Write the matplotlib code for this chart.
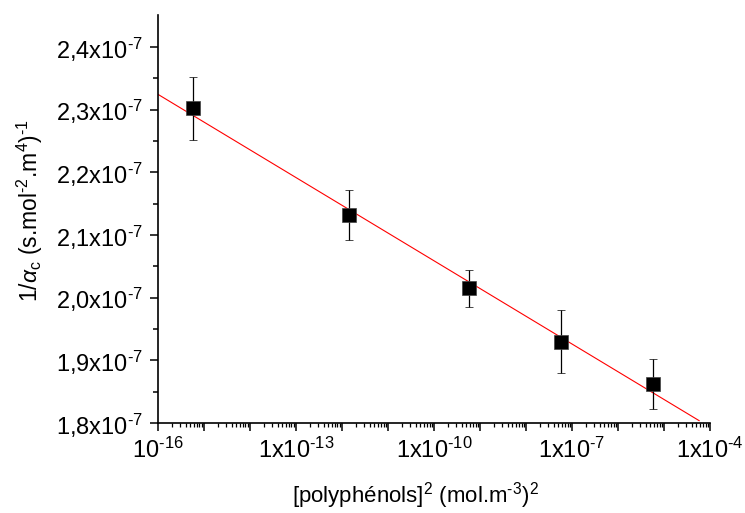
import numpy as np
import matplotlib
matplotlib.use("Agg")
import matplotlib.pyplot as plt
from matplotlib.ticker import LogLocator, FixedLocator, FuncFormatter, NullFormatter

plt.rcParams['font.family'] = ['Liberation Sans', 'DejaVu Sans']
plt.rcParams['mathtext.fontset'] = 'custom'
plt.rcParams['mathtext.rm'] = 'Liberation Sans'
plt.rcParams['mathtext.it'] = 'Liberation Sans:italic'
plt.rcParams['mathtext.default'] = 'regular'

# data
conc2 = [5.8e-16, 1.4e-12, 5.8e-10, 5.8e-8, 5.8e-6]
inv_alpha = [2.302e-7, 2.132e-7, 2.015e-7, 1.930e-7, 1.863e-7]
err = [0.050e-7, 0.040e-7, 0.030e-7, 0.050e-7, 0.040e-7]
fit_range = [1e-16, 5.8e-5]

y_ticks = [1.8e-7, 1.9e-7, 2.0e-7, 2.1e-7, 2.2e-7, 2.3e-7, 2.4e-7]
x_ticks = [1e-16, 1e-13, 1e-10, 1e-7, 1e-4]
x_labels = [r"10$^{\text{-}16}$", r"1x10$^{\text{-}13}$", r"1x10$^{\text{-}10}$",
            r"1x10$^{\text{-}7}$", r"1x10$^{\text{-}4}$"]

fig = plt.figure(figsize=(7.45, 5.13), dpi=100)
ax = fig.add_axes([0.212, 0.175, 0.741, 0.796])

# linear fit of y against log10(x)
p = np.polyfit(np.log10(conc2), inv_alpha, 1)
xf = np.logspace(np.log10(fit_range[0]), np.log10(fit_range[1]), 50)
ax.plot(xf, np.polyval(p, np.log10(xf)), color='red', lw=0.8, zorder=2)

ax.errorbar(conc2, inv_alpha, yerr=err, fmt='s', color='black', ms=10.3,
            mec='#444444', mew=0.5, ecolor='black', elinewidth=0.9,
            capsize=2.9, capthick=0.9, zorder=3)

ax.set_xscale('log')
ax.set_xlim(1e-16, 1e-4)
ax.set_ylim(1.8e-7, 2.451e-7)

# every decade gets a long tick, only every third one is labelled
dec = [10.0 ** k for k in range(-16, -3)]
ax.set_xticks(dec)
ax.set_xticklabels([x_labels[x_ticks.index(d)] if d in x_ticks else "" for d in dec])
ax.xaxis.set_minor_locator(LogLocator(base=10, subs=np.arange(2, 10), numticks=100))
ax.xaxis.set_minor_formatter(NullFormatter())

ax.yaxis.set_major_locator(FixedLocator(y_ticks))
ax.yaxis.set_minor_locator(FixedLocator(np.arange(1.85e-7, 2.45e-7, 0.1e-7)))
ax.yaxis.set_major_formatter(FuncFormatter(
    lambda v, pos: (r"%.1fx10$^{\text{-}7}$" % (v * 1e7)).replace('.', ',')))

for s in ['top', 'right']:
    ax.spines[s].set_visible(False)
for s in ['left', 'bottom']:
    ax.spines[s].set_linewidth(1.2)

ax.tick_params(axis='both', which='major', direction='out', length=5.5, width=1.1,
               labelsize=17)
ax.tick_params(axis='y', which='minor', direction='out', length=3.5, width=1.1)
ax.tick_params(axis='x', which='minor', direction='out', length=3, width=0.9)
ax.tick_params(axis='x', which='major', pad=5)
ax.tick_params(axis='y', which='major', pad=5)

ax.set_xlabel(r"[polyphénols]$^{2}$ (mol.m$^{\text{-}3}$)$^{2}$", fontsize=16)
ax.set_ylabel(r"1/$\mathit{\alpha}_{c}$ (s.mol$^{\text{-}2}$.m$^{4}$)$^{\text{-}1}$", fontsize=16.5)
ax.xaxis.set_label_coords(0.466, -0.14)
ax.yaxis.set_label_coords(-0.232, 0.52)
ax.yaxis.label.set_verticalalignment('center')

fig.savefig("out.png", dpi=100)
